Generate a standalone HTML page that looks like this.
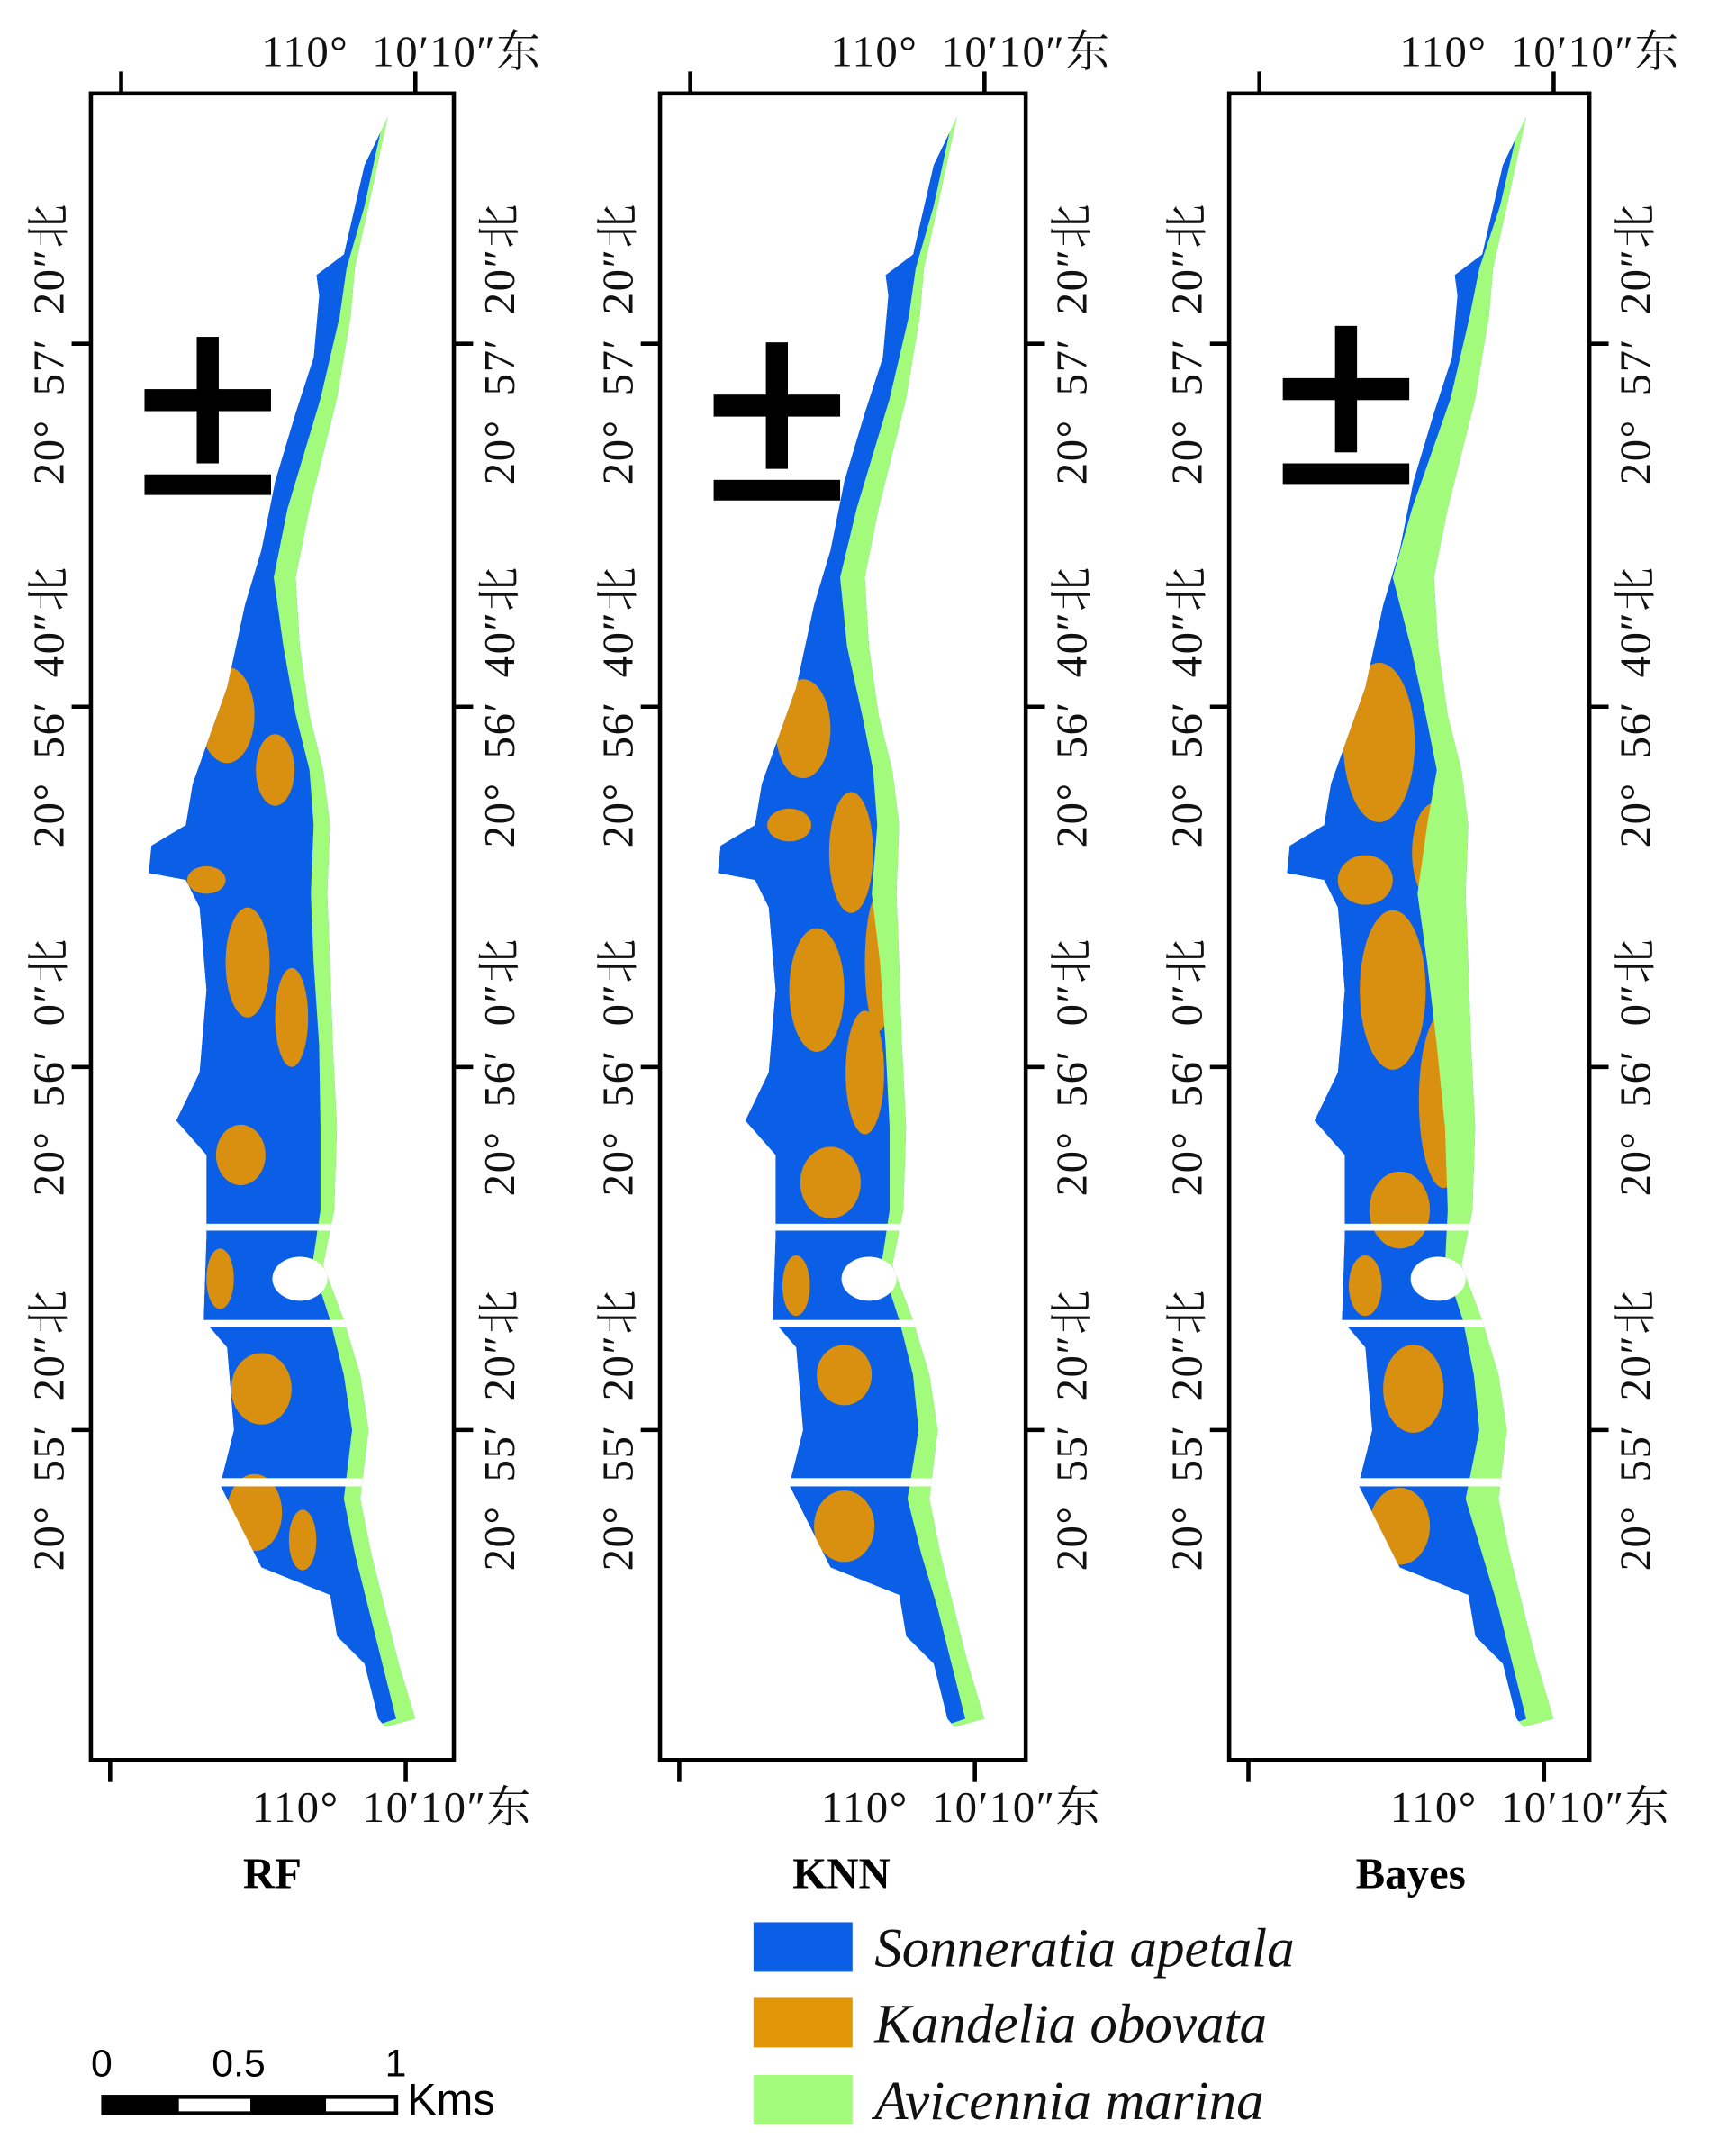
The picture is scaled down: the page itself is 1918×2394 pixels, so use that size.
<!DOCTYPE html>
<html><head><meta charset="utf-8"><style>
html,body{margin:0;padding:0;background:#fff;}
svg{display:block;}
.lab{font-family:"Liberation Serif","Noto Serif CJK SC",serif;font-size:32px;fill:#111;letter-spacing:1px;word-spacing:8px;}
</style></head><body>
<svg id="fig" width="1918" height="2394" viewBox="0 0 1256 1568" xmlns="http://www.w3.org/2000/svg">
<g id="panels"></g>
<g>
 <rect x="548" y="1398" width="72" height="36" fill="#0a5fe6"/>
 <text x="636" y="1430" style="font-family:'Liberation Serif',serif;font-style:italic;font-size:40px" fill="#111">Sonneratia apetala</text>
 <rect x="548" y="1453" width="72" height="36" fill="#e29506"/>
 <text x="636" y="1485" style="font-family:'Liberation Serif',serif;font-style:italic;font-size:40px" fill="#111">Kandelia obovata</text>
 <rect x="548" y="1509" width="72" height="36" fill="#a3fb7b"/>
 <text x="636" y="1541" style="font-family:'Liberation Serif',serif;font-style:italic;font-size:40px" fill="#111">Avicennia marina</text>
</g>
<g>
 <rect x="75" y="1525" width="213" height="12" fill="#fff" stroke="#000" stroke-width="3"/>
 <rect x="75" y="1525" width="55" height="12" fill="#000"/>
 <rect x="182" y="1525" width="55" height="12" fill="#000"/>
 <g style="font-family:'Liberation Sans',sans-serif;font-size:28px" fill="#000">
  <text x="66" y="1510">0</text><text x="154" y="1510">0.5</text><text x="280" y="1510">1</text>
  <text x="296" y="1538" style="font-size:32px">Kms</text>
 </g>
</g>
</svg>
<script>
const panelNames=['RF','KNN','Bayes'];
const panelOffsets=[0,414,828];
const latLabels=['20°  57′ 20″北','20°  56′ 40″北','20°  56′ 0″北','20°  55′ 20″北'];
const latTicks=[250,514,776,1040];
const lonLabel='110°  10′10″东';
const rightEdge=[[282,85],[268,150],[258,195],[255,230],[245,290],[235,330],[225,370],[215,420],[218,470],[225,520],[235,560],[240,600],[238,650],[240,700],[242,760],[245,820],[243,880],[235,920],[250,960],[262,1000],[268,1040],[262,1090],[270,1130],[280,1170],[290,1210],[302,1250],[280,1256]];
const greenWidth=[[3,3,6,8,12,14,16,16,12,10,10,12,12,12,10,12,10,8,10,12,12,12,12,12,12,14,10],[3,3,6,8,12,14,16,18,16,12,14,16,18,14,12,12,10,8,10,12,14,16,14,12,12,14,10],[4,5,10,14,18,22,26,30,20,16,18,30,35,30,25,22,18,12,14,18,20,24,20,18,18,20,14]];
const leftEdge=[[275,1250],[265,1210],[245,1190],[240,1160],[190,1140],[160,1080],[170,1040],[165,980],[148,960],[150,900],[150,840],[128,815],[145,780],[150,720],[145,660],[135,640],[108,635],[110,615],[135,600],[140,570],[165,500],[178,440],[190,400],[200,350],[215,300],[228,260],[232,215],[230,200],[250,185],[265,120]];
const orangePatches=[[[165,520,20,35],[200,560,14,26],[180,700,16,40],[212,740,12,36],[175,840,18,22],[160,930,10,22],[190,1010,22,26],[185,1100,20,28],[220,1120,10,22],[150,640,14,10]],[[170,530,20,36],[205,620,16,44],[180,720,20,45],[215,780,14,45],[190,860,22,26],[165,935,10,22],[200,1000,20,22],[200,1110,22,26],[225,700,10,50],[160,600,16,12]],[[175,540,26,58],[215,620,16,36],[185,720,24,58],[222,800,18,64],[190,880,22,28],[165,935,12,22],[200,1010,22,32],[190,1110,22,28],[165,640,20,18]]];
const NS='http://www.w3.org/2000/svg';
const root=document.getElementById('panels');
function mk(tag,attrs,parent){const e=document.createElementNS(NS,tag);for(const k in attrs)e.setAttribute(k,attrs[k]);parent.appendChild(e);return e;}
panelNames.forEach((name,i)=>{
 const g=mk('g',{transform:'translate('+panelOffsets[i]+',0)'},root);
 
 
 const w=i===2?262:(i===1?266:264);
 const fr=mk('rect',{x:66,y:68,width:w,height:1212,fill:'none',stroke:'#000','stroke-width':3},g);
 
 
 const body=rightEdge.concat(leftEdge).map(p=>p.join(',')).join(' ');
 const defs=mk('defs',{},g);
 const cp=mk('clipPath',{id:'clip'+i},defs);
 mk('polygon',{points:body},cp);
 const shape=mk('g',{'clip-path':'url(#clip'+i+')'},g);
 
 
 mk('polygon',{points:body,fill:'#0a5fe6'},shape);
 orangePatches[i].forEach(o=>{mk('ellipse',{cx:o[0],cy:o[1],rx:o[2],ry:o[3],fill:'#d98f10'},shape);});
 const gw=greenWidth[i];
 const green=rightEdge.map(p=>p.join(',')).concat(rightEdge.map((p,k)=>(p[0]-gw[k])+','+p[1]).reverse()).join(' ');
 mk('polygon',{points:green,fill:'#a3fb7b'},shape);
 [[890,5],[960,5],[1075,6]].forEach(c=>mk('rect',{x:100,y:c[0],width:220,height:c[1],fill:'#fff'},shape));
 mk('ellipse',{cx:218,cy:930,rx:20,ry:16,fill:'#fff'},shape);
 const na=mk('g',{fill:'#000'},g);
 
 
 const ny=i===2?-8:(i===1?4:0);
 mk('rect',{x:143,y:245+ny,width:16,height:92},na);
 mk('rect',{x:105,y:283+ny,width:92,height:16},na);
 mk('rect',{x:105,y:345+ny,width:92,height:15},na);
 const tx=[[88,302],[80,295]];
 mk('line',{x1:tx[0][0],y1:52,x2:tx[0][0],y2:68,stroke:'#000','stroke-width':3},g);
 mk('line',{x1:tx[0][1],y1:52,x2:tx[0][1],y2:68,stroke:'#000','stroke-width':3},g);
 mk('line',{x1:tx[1][0],y1:1280,x2:tx[1][0],y2:1296,stroke:'#000','stroke-width':3},g);
 mk('line',{x1:tx[1][1],y1:1280,x2:tx[1][1],y2:1296,stroke:'#000','stroke-width':3},g);
 const t1=mk('text',{x:190,y:48,class:'lab'},g);t1.textContent=lonLabel;
 
 
 const t2=mk('text',{x:183,y:1325,class:'lab'},g);t2.textContent=lonLabel;
 
 
 latTicks.forEach((y,k)=>{
  mk('line',{x1:52,y1:y,x2:66,y2:y,stroke:'#000','stroke-width':3},g);
  mk('line',{x1:66+w,y1:y,x2:80+w,y2:y,stroke:'#000','stroke-width':3},g);
  const a=mk('text',{x:0,y:0,class:'lab','text-anchor':'middle',transform:'translate(46,'+y+') rotate(-90)'},g);a.textContent=latLabels[k];
  
  
  const b=mk('text',{x:0,y:0,class:'lab','text-anchor':'middle',transform:'translate('+(w+110)+','+y+') rotate(-90)'},g);b.textContent=latLabels[k];
  
  
 });
 const tt=mk('text',{x:198,y:1373,'text-anchor':'middle',style:"font-family:'Liberation Serif',serif;font-weight:bold;font-size:32px"},g);tt.textContent=name;
 
 
});
</script>
</body></html>
